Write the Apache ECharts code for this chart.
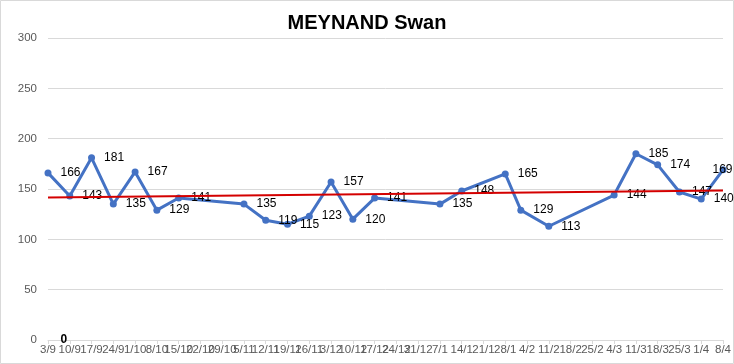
<!DOCTYPE html>
<html>
<head>
<meta charset="utf-8">
<script src="https://cdn.jsdelivr.net/npm/echarts@6/dist/echarts.min.js"></script>
<style>
html,body{margin:0;padding:0;background:#fff;}
#c{width:734px;height:364px;}
</style>
</head>
<body>
<div id="c"></div>
<script>
// ---- data ----
const title = 'MEYNAND Swan';
const tickLabels = ['3/9','10/9','17/9','24/9','1/10','8/10','15/10','22/10','29/10','5/11','12/11','19/11','26/11','3/12','10/12','17/12','24/12','31/12','7/1','14/1','21/1','28/1','4/2','11/2','18/2','25/2','4/3','11/3','18/3','25/3','1/4','8/4'];
const pointDates = ['3/9','10/9','17/9','24/9','1/10','8/10','15/10','5/11','12/11','19/11','26/11','3/12','10/12','17/12','7/1','14/1','28/1','2/2','11/2','4/3','11/3','18/3','25/3','1/4','8/4'];
const pointValues = [166,143,181,135,167,129,141,135,119,115,123,157,120,141,135,148,165,129,113,144,185,174,147,140,169];
const zeroDates = ['3/9'];
const zeroValues = [0];
const trendDates = ['3/9','8/4'];
const trendValues = [141.5,148.5];
const yTicks = {min:0, max:300, step:50};

// ---- helpers ----
function dayOffset(s){
  const [d,m] = s.split('/').map(Number);
  const y = m >= 9 ? 2022 : 2023;
  return Math.round((Date.UTC(y,m-1,d) - Date.UTC(2022,8,3)) / 86400000);
}
const xMax = dayOffset(tickLabels[tickLabels.length-1]);

const font = 'Liberation Sans, Arial, sans-serif';
const mainData = pointDates.map((d,i)=>{
  const item = {value:[dayOffset(d), pointValues[i]]};
  if (i === pointDates.length-1) item.label = {offset:[-23,0]};
  return item;
});

const chart = echarts.init(document.getElementById('c'), null, {renderer:'canvas'});
chart.setOption({
  animation:false,
  backgroundColor:'#fff',
  graphic:[{type:'rect', shape:{x:0.5,y:0.5,width:733,height:363}, style:{fill:null, stroke:'#d9d9d9', lineWidth:1}, silent:true, z:-1}],
  title:{text:title, left:'center', top:13, padding:0,
    textStyle:{fontFamily:font, fontSize:20, fontWeight:'bold', color:'#000'}},
  grid:{left:48, right:11, top:38, bottom:24, containLabel:false},
  xAxis:{type:'value', min:0, max:xMax, interval:7,
    axisLine:{show:true, lineStyle:{color:'#d9d9d9'}},
    axisTick:{show:true, length:4, lineStyle:{color:'#d9d9d9'}},
    splitLine:{show:false},
    axisLabel:{show:true, margin:4, color:'#595959', fontFamily:font, fontSize:11.5,
      showMinLabel:true, showMaxLabel:true, hideOverlap:false,
      formatter:(v)=>tickLabels[Math.round(v/7)] || ''}},
  yAxis:{type:'value', min:yTicks.min, max:yTicks.max, interval:yTicks.step,
    axisLine:{show:false}, axisTick:{show:false},
    splitLine:{lineStyle:{color:'#d9d9d9'}},
    axisLabel:{margin:11, color:'#595959', fontFamily:font, fontSize:11.5}},
  series:[
    {type:'line', data:trendDates.map((d,i)=>[dayOffset(d), trendValues[i]]),
      symbol:'none', lineStyle:{color:'#d40000', width:2}, z:3, silent:true},
    {type:'line', data:mainData, symbol:'circle', symbolSize:7,
      lineStyle:{color:'#4472c4', width:3}, itemStyle:{color:'#4472c4'}, z:2,
      label:{show:true, position:'right', distance:9, color:'#000', fontFamily:font, fontSize:12}},
    {type:'line', data:zeroDates.map((d,i)=>[dayOffset(d), zeroValues[i]]),
      symbol:'circle', symbolSize:7, itemStyle:{color:'transparent'}, lineStyle:{width:0}, z:4,
      label:{show:true, position:'right', distance:9, color:'#000', fontFamily:font, fontSize:12, fontWeight:'bold'}}
  ]
});
</script>
</body>
</html>
